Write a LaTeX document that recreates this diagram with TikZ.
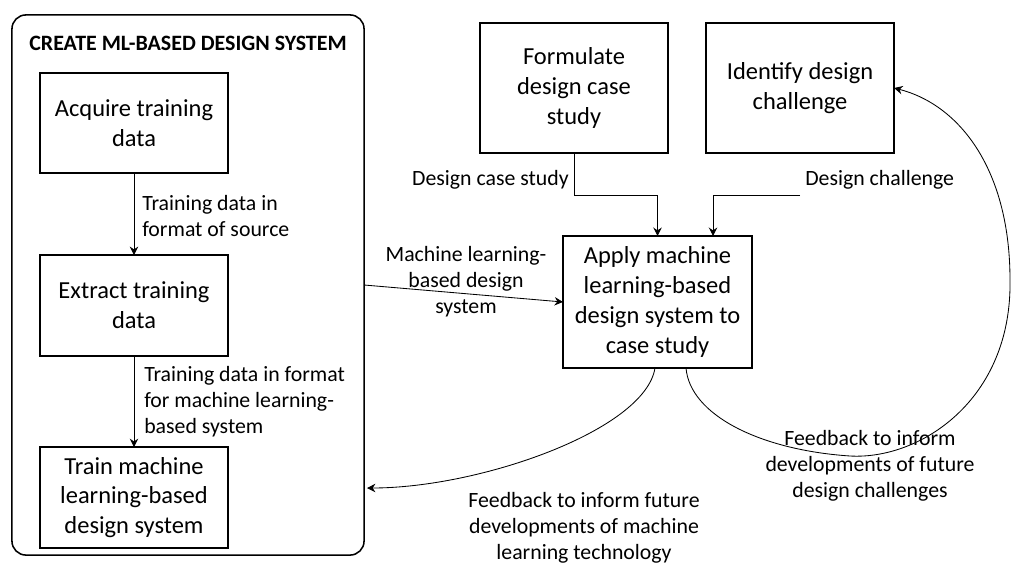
\documentclass[tikz,border=0pt]{standalone}
\usepackage{fontspec}
\setmainfont{Carlito}
\usetikzlibrary{positioning, calc, arrows.meta}

\begin{document}
\begin{tikzpicture}[x=0.025cm, y=-0.025cm,
    process/.style={draw, 
      line width=1.1pt, 
      inner sep=2pt, 
      outer sep=0pt, 
      minimum width=4.7cm, 
      align=center, 
      font=\fontsize{17.4}{21.3}\selectfont},
    flowlabel/.style={inner sep=0pt, 
      font=\fontsize{15.5}{18.5}\selectfont},
    flow/.style={line width=0.6pt, 
      -{Stealth[length=6pt, width=6pt, inset=2pt]}}]

  \useasboundingbox (0,0) rectangle (1011,565);

% CREATE SYSTEM

  \node [draw, 
    line width=1.1pt, 
    rounded corners=0.35cm, 
    minimum width=8.8cm, 
    minimum height=13.5cm, 
    outer sep=0pt] (mlsystem) at (188,285) {};

  \node [font=\fontsize{15.6}{18}\selectfont\bfseries] (mltitle) at (188,43) 
    {CREATE ML-BASED DESIGN SYSTEM};

  \node [process, minimum height=2.5cm] (acquire) at (134,123) 
    {Acquire training\\data};

  \node [process, 
    minimum height=2.525cm, 
    below=2.05cm of acquire] (extract) 
    {Extract training\\data};

  \node [process, 
    minimum height=2.525cm, 
    below=2.275cm of extract] (train) 
    {Train machine\\learning-based\\design system};

  \draw[flow] (acquire) -- (extract);
  \draw[flow] (extract) -- (train);

  \node [flowlabel, align=left, anchor=west] (rawlabel) at (142,216) 
    {Training data in\\format of source};
  \node [flowlabel, align=left, anchor=west] (mllabel) at (144,402) 
    {Training data in format\\for machine learning-\\based system};


% CASE STUDY

  \node [process, minimum height=3.25cm] (formulate) at (574,88) 
    {Formulate\\design case\\study};

  \node [process, 
    minimum height=3.25cm, 
    right=0.95cm of formulate] (identify) 
    {Identify design\\challenge};

  \node [process, minimum height=3.3cm, minimum width=4.725cm] (apply) at (657.5,302) 
    {Apply machine\\learning-based\\design system to\\case study};

  \coordinate (challengein) at (800,195);
  \coordinate (mlfeedback) at (367,488);

  \draw[flow] (formulate.south) -- ++(0,42) -| (apply.north);
  \draw[flow] (challengein) -| ($(apply.north)+(55.5,0)$);
  \draw[flow] (mlsystem.east) -- (apply.west);

  \node [flowlabel, anchor=east] (caselabel) at (569,180) {Design case study};
  \node [flowlabel, anchor=west] (challengelabel) at (805,180) {Design challenge};
  \node [flowlabel, align=center] (systemlabel) at (466,282) 
    {Machine learning-\\based design\\system};


% FEEDBACK

  \draw[flow] ($(apply.south)+(-2.5,0)$) 
  .. controls (645,430) and (480,488) .. (mlfeedback);

  \draw[flow] ($(apply.south)+(28.5,0)$) 
  .. controls (690,415) and (760,450) .. (850,456) 
  .. controls (920,460) and (1012,400) .. (1010,280) 
  .. controls (1010,170) and (960,105) .. (identify.east);

  \node [flowlabel, align=center] (mlfeedlabel) at (584,528) 
    {Feedback to inform future\\developments of machine\\learning technology};
  \node [flowlabel, align=center] (challengefeedlabel) at (870,466) 
    {Feedback to inform\\developments of future\\design challenges};

\end{tikzpicture}
\end{document}
